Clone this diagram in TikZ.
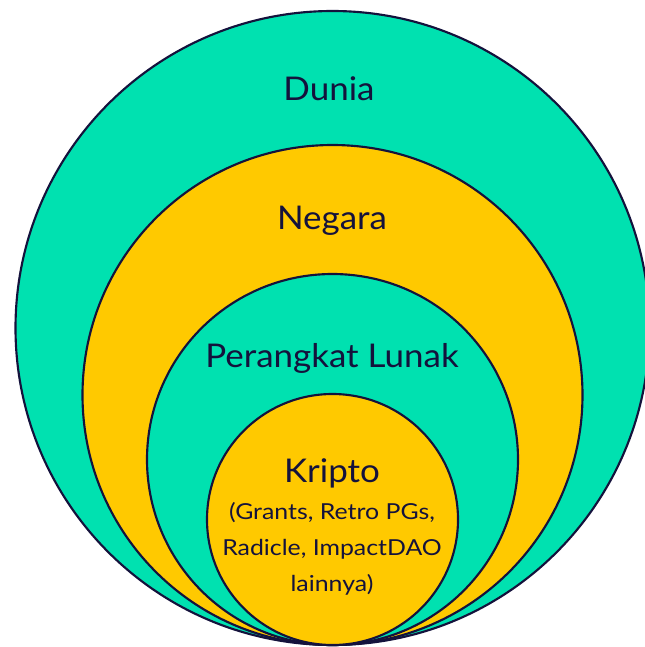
\documentclass[tikz,border=0pt]{standalone}
\usepackage{fontspec}
\setmainfont{Lato}
\newfontfamily\bigfam[FakeStretch=1.07]{Lato}
\newfontfamily\smallfam[FakeStretch=1.13]{Lato}
\definecolor{ringgreen}{HTML}{00E1B0}
\definecolor{ringyellow}{HTML}{FFC900}
\definecolor{inkline}{HTML}{14123C}
\begin{document}
\begin{tikzpicture}[x=0.75pt,y=-0.75pt,
  ring/.style={draw=inkline,line width=1.6pt},
  bigtext/.style={anchor=base,text=inkline,inner sep=0pt,font=\bigfam\fontsize{24.5}{28}\selectfont},
  smalltext/.style={anchor=base,text=inkline,inner sep=0pt,font=\smallfam\fontsize{16.5}{20}\selectfont}]
\useasboundingbox (0,0) rectangle (645,647);
\begin{scope}
\clip (0,0) rectangle (645,647);
\path[ring,fill=ringgreen] (332.5,328) circle[radius=317*0.75pt];
\path[ring,fill=ringyellow] (332.5,395) circle[radius=250*0.75pt];
\path[ring,fill=ringgreen] (332.5,459.5) circle[radius=185.5*0.75pt];
\path[ring,fill=ringyellow] (332.5,519.5) circle[radius=125.5*0.75pt];
\end{scope}
\node[bigtext] (dunia) at (329,100) {Dunia};
\node[bigtext] (negara) at (332,229) {Negara};
\node[bigtext] (perangkat) at (332,367) {Perangkat Lunak};
\node[bigtext] (kripto) at (332,482) {Kripto};
\node[smalltext] (k1) at (332,519) {(Grants, Retro PGs,};
\node[smalltext] (k2) at (332,555) {Radicle, ImpactDAO};
\node[smalltext] (k3) at (332,591) {lainnya)};
\end{tikzpicture}
\end{document}
